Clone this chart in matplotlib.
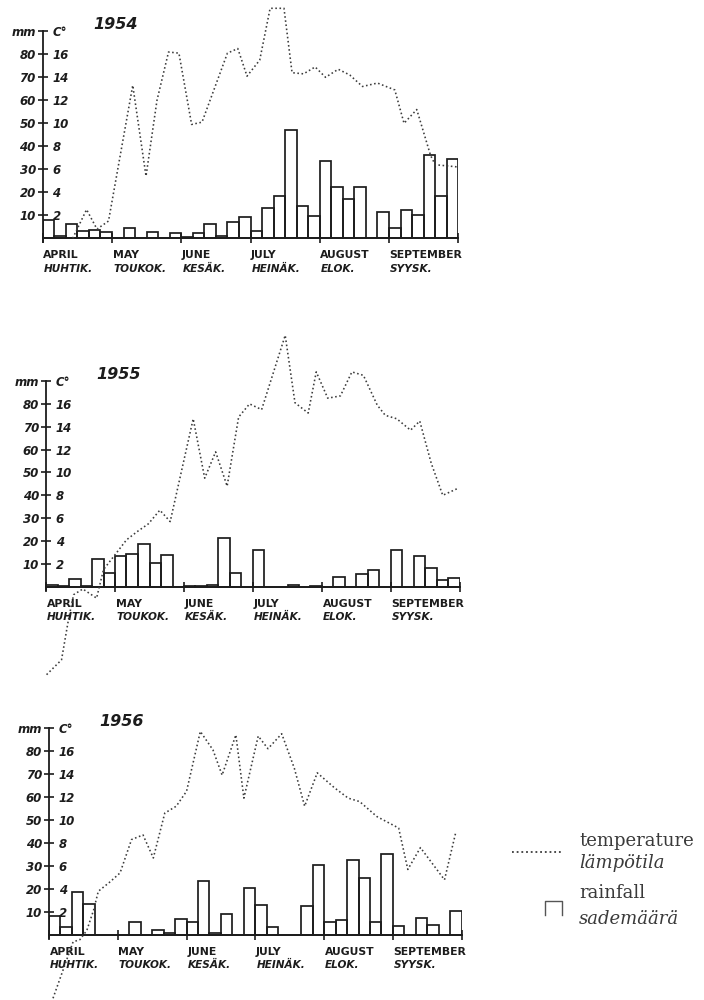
import matplotlib
matplotlib.use('Agg')
import matplotlib.pyplot as plt
import numpy as np

# ---------------- data ----------------
years = ['1954', '1955', '1956']
months_en = ['APRIL', 'MAY', 'JUNE', 'JULY', 'AUGUST', 'SEPTEMBER']
months_fi = ['HUHTIK.', 'TOUKOK.', 'KESÄK.', 'HEINÄK.', 'ELOK.', 'SYYSK.']
mm_ticks = [10, 20, 30, 40, 50, 60, 70, 80]
c_ticks = [2, 4, 6, 8, 10, 12, 14, 16]

# rainfall (mm) per pentad, April .. September (6 pentads per month)
rain_1954 = [8.0, 1.0, 6.1, 3.1, 3.8, 2.8,
             0.0, 4.4, 0.0, 2.6, 0.0, 2.1,
             0.6, 2.1, 6.1, 1.1, 7.2, 9.4,
             3.2, 13.0, 18.4, 47.3, 14.1, 9.7,
             33.6, 22.2, 17.1, 22.4, 0.0, 11.5,
             4.6, 12.3, 10.1, 36.1, 18.4, 34.3]
rain_1955 = [0.8, 0.2, 3.3, 0.3, 12.1, 5.8,
             13.4, 14.3, 18.7, 10.3, 13.8, 0.0,
             0.4, 0.3, 0.6, 21.1, 5.8, 0.0,
             15.9, 0.0, 0.0, 0.7, 0.0, 0.3,
             0.0, 4.4, 0.0, 5.5, 7.2, 0.0,
             16.2, 0.0, 13.4, 8.2, 3.1, 4.0]
rain_1956 = [8.3, 3.6, 18.6, 13.6, 0.0, 0.0,
             0.0, 5.8, 0.0, 2.2, 1.0, 6.8,
             5.7, 23.5, 1.0, 9.1, 0.0, 20.6,
             13.0, 3.3, 0.0, 0.0, 12.6, 30.4,
             5.8, 6.5, 32.6, 24.6, 5.8, 35.1,
             3.9, 0.0, 7.5, 4.3, 0.0, 10.6]

# temperature (deg C): time in pentads from 1 April, and value
temp_t_1954 = [2.6, 3.8, 4.7, 5.7, 7.8, 8.95, 9.9, 10.9, 11.8, 12.9, 13.8, 16.0,
               16.9, 17.7, 18.8, 19.7, 20.9, 21.6, 22.6, 23.6, 24.5, 25.6, 26.6,
               27.7, 29.0, 30.5, 31.3, 32.4, 33.6, 34.0, 35.0, 36.0]
temp_1954 = [0.0, 2.5, 0.8, 1.5, 13.3, 5.4, 12.0, 16.2, 16.1, 9.9, 10.1, 16.1,
             16.5, 14.1, 15.5, 20.0, 20.0, 14.4, 14.3, 14.9, 14.0, 14.7, 14.2,
             13.2, 13.5, 12.9, 10.0, 11.2, 7.2, 6.4, 6.3, 6.2]
temp_t_1955 = [0.05, 1.35, 1.95, 2.4, 3.2, 4.4, 5.0, 5.85, 7.0, 7.9, 8.9, 9.9,
               10.8, 12.8, 13.8, 14.75, 15.75, 16.75, 17.7, 18.75, 20.8, 21.65,
               22.8, 23.5, 24.5, 25.6, 26.6, 27.6, 28.8, 29.5, 30.5, 31.7, 32.5,
               33.5, 34.5, 35.8]
temp_1955 = [-7.7, -6.4, -2.9, -0.7, -0.2, -1.0, 1.5, 2.6, 4.1, 4.8, 5.5, 6.7,
             5.7, 14.7, 9.5, 11.8, 8.8, 14.85, 16.0, 15.5, 22.0, 16.1,
             15.2, 18.8, 16.5, 16.7, 18.8, 18.5, 15.9, 15.0, 14.7, 13.7, 14.5,
             10.8, 8.0, 8.6]
temp_t_1956 = [0.35, 2.1, 2.7, 3.3, 3.9, 4.3, 5.3, 6.2, 7.2, 8.2, 9.1, 10.1,
               11.1, 12.0, 13.2, 14.3, 15.1, 16.3, 17.0, 18.25, 19.1, 20.3,
               21.4, 22.3, 23.4, 24.9, 26.1, 27.1, 28.6, 30.5, 31.3, 32.4,
               34.5, 35.5]
temp_1956 = [-5.5, -0.6, -0.4, 0.4, 2.2, 3.8, 4.6, 5.4, 8.3, 8.7, 6.7, 10.6,
             11.2, 12.5, 17.7, 16.1, 13.9, 17.4, 11.9, 17.3, 16.2, 17.5,
             14.5, 11.2, 14.1, 12.8, 11.9, 11.6, 10.3, 9.3, 5.7, 7.6,
             4.8, 9.0]

rains = [rain_1954, rain_1955, rain_1956]
temp_ts = [temp_t_1954, temp_t_1955, temp_t_1956]
temps = [temp_1954, temp_1955, temp_1956]

# ---------------- layout ----------------
W, H = 704, 1000
fig = plt.figure(figsize=(W / 100, H / 100), dpi=100)
fig.patch.set_facecolor('white')

# pixel x of first pentad edge, of last pentad edge, baseline y, pixels per 10 mm
layout = [(42.7, 458.3, 238.3, 23.0),
          (46.0, 460.0, 586.7, 22.85),
          (49.0, 461.7, 935.0, 23.0)]
YMIN, YMAX = -45, 105
ink = '#1c1c1c'
dotc = '#3c3c3c'
hand = dict(family='DejaVu Sans', style='italic', color=ink, fontweight='bold')

for year, rain, tt, tv, (x0, x36, base, p10) in zip(years, rains, temp_ts, temps, layout):
    bot = base - YMIN * p10 / 10
    top = base - YMAX * p10 / 10
    ax = fig.add_axes([x0 / W, 1 - bot / H, (x36 - x0) / W, (bot - top) / H])
    ax.set_xlim(0, 36)
    ax.set_ylim(YMIN, YMAX)
    ax.patch.set_visible(False)

    pent = np.arange(len(rain)) + 0.5
    ax.bar(pent, rain, width=1.0, fill=False, edgecolor=ink, linewidth=1.25, zorder=2)

    for s in ('top', 'right'):
        ax.spines[s].set_visible(False)
    ax.spines['bottom'].set_position(('data', 0))
    ax.spines['bottom'].set_bounds(0, 36)
    ax.spines['left'].set_bounds(-1.5, 90)
    for s in ('bottom', 'left'):
        ax.spines[s].set_linewidth(1.3)
        ax.spines[s].set_color(ink)
    ax.set_xticks(np.arange(0, 37, 6))
    ax.set_xticklabels([])
    ax.tick_params(axis='x', direction='inout', length=7, width=1.2, color=ink)
    ax.set_yticks(mm_ticks + [90])
    ax.set_yticklabels([str(v) for v in mm_ticks] + ['mm'])
    ax.tick_params(axis='y', direction='inout', length=7, width=1.2, color=ink,
                   labelsize=8.5, pad=1.5)
    for lb in ax.get_yticklabels():
        lb.set_fontstyle('italic')
        lb.set_fontweight('bold')
        lb.set_color(ink)

    for i, (en, fi) in enumerate(zip(months_en, months_fi)):
        ax.text(i * 6 + 0.05, -7.4, en, fontsize=7.8, ha='left', va='center',
                family='DejaVu Sans', fontweight='bold', color=ink, clip_on=False)
        ax.text(i * 6 + 0.1, -13.2, fi, fontsize=7.6, ha='left', va='center',
                clip_on=False, **hand)
    ax.text(4.4, 93, year, fontsize=11.5, ha='left', va='center', **hand)

    ax2 = ax.twinx()
    ax2.set_xlim(0, 36)
    ax2.set_ylim(YMIN / 5, YMAX / 5)
    ax2.patch.set_visible(False)
    for s in ax2.spines.values():
        s.set_visible(False)
    ax2.spines['right'].set_position(('axes', 0))
    ax2.set_yticks(c_ticks + [18])
    ax2.set_yticklabels([str(v) for v in c_ticks] + ['C°'])
    ax2.tick_params(axis='y', length=0, pad=7, labelsize=8.5)
    for lb in ax2.get_yticklabels():
        lb.set_fontstyle('italic')
        lb.set_fontweight('bold')
        lb.set_color(ink)
    ax2.plot(tt, tv, linestyle=(0, (1, 1.6)), color=dotc, linewidth=1.15,
             clip_on=False, zorder=3)

# ---------------- legend ----------------
lax = fig.add_axes([0, 0, 1, 1])
lax.set_xlim(0, W)
lax.set_ylim(H, 0)
lax.axis('off')
lax.plot([512, 563], [851.5, 851.5], linestyle=(0, (1, 1.6)), color=dotc, linewidth=1.3)
lax.plot([545, 545, 561.5, 561.5], [915, 900.5, 900.5, 915], color='#555555', linewidth=1.0)
serif = dict(family='DejaVu Serif', fontsize=13, color='#3a3a3a', ha='left', va='baseline')
lax.text(579, 846.5, 'temperature', **serif)
lax.text(579, 868.5, 'lämpötila', style='italic', **serif)
lax.text(579, 897.5, 'rainfall', **serif)
lax.text(579, 924.5, 'sademäärä', style='italic', **serif)

fig.savefig('out.png', dpi=100)
